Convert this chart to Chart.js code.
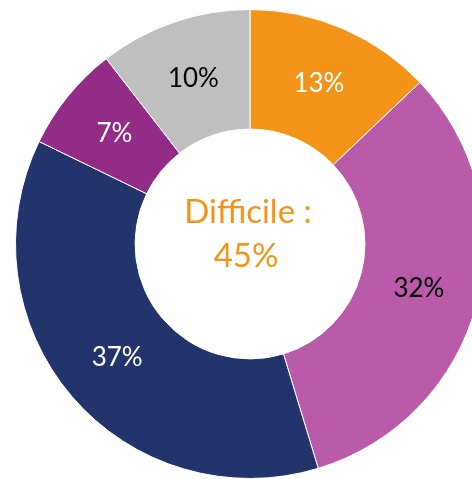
<!DOCTYPE html>
<html lang="fr">
<head>
  <meta charset="UTF-8">
  <title>Difficile</title>
  <script src="https://cdn.jsdelivr.net/npm/chart.js"></script>
  <style>
    html, body {
      margin: 0;
      padding: 0;
      background: #ffffff;
      overflow: hidden;
      width: 472px;
      height: 479px;
    }
    canvas {
      display: block;
    }
  </style>
</head>
<body>
  <canvas id="donut" width="500" height="488"></canvas>

  <script>
    const labels = ["A", "B", "C", "D", "E"];
    // slice sizes (shown rounded below)
    const values = [12.9, 32.4, 36.9, 7.3, 10.5];
    const shown = ["13%", "32%", "37%", "7%", "10%"];
    const colors = ["#F39419", "#B95BA8", "#23336B", "#932C87", "#BFBFBF"];
    const labelColors = ["#ffffff", "#000000", "#ffffff", "#ffffff", "#000000"];
    const centerLines = ["Difficile :", "45%"];

    const fontFamily = "Lato, 'Noto Sans', sans-serif";

    // draws the % inside each slice and the text in the hole
    const textPlugin = {
      id: "sliceText",
      afterDatasetsDraw(chart) {
        const ctx = chart.ctx;
        const meta = chart.getDatasetMeta(0);
        ctx.save();
        ctx.textAlign = "center";
        ctx.textBaseline = "middle";
        ctx.font = "26px " + fontFamily;
        meta.data.forEach((arc, i) => {
          const p = arc.tooltipPosition();
          ctx.fillStyle = labelColors[i];
          ctx.fillText(shown[i], p.x, p.y);
        });
        const c = meta.data[0];
        ctx.fillStyle = "#F39419";
        ctx.font = "33px " + fontFamily;
        ctx.textBaseline = "alphabetic";
        ctx.fillText(centerLines[0], c.x - 2, c.y - 21);
        ctx.fillText(centerLines[1], c.x - 4, c.y + 23);
        ctx.restore();
      }
    };

    new Chart(document.getElementById("donut"), {
      type: "doughnut",
      data: {
        labels: labels,
        datasets: [{
          data: values,
          backgroundColor: colors,
          borderColor: "#ffffff",
          borderWidth: 1
        }]
      },
      options: {
        responsive: false,
        animation: false,
        cutout: "49%",
        layout: { padding: { top: 9, bottom: 9 } },
        plugins: {
          legend: { display: false },
          tooltip: { enabled: false }
        }
      },
      plugins: [textPlugin]
    });
  </script>
</body>
</html>
